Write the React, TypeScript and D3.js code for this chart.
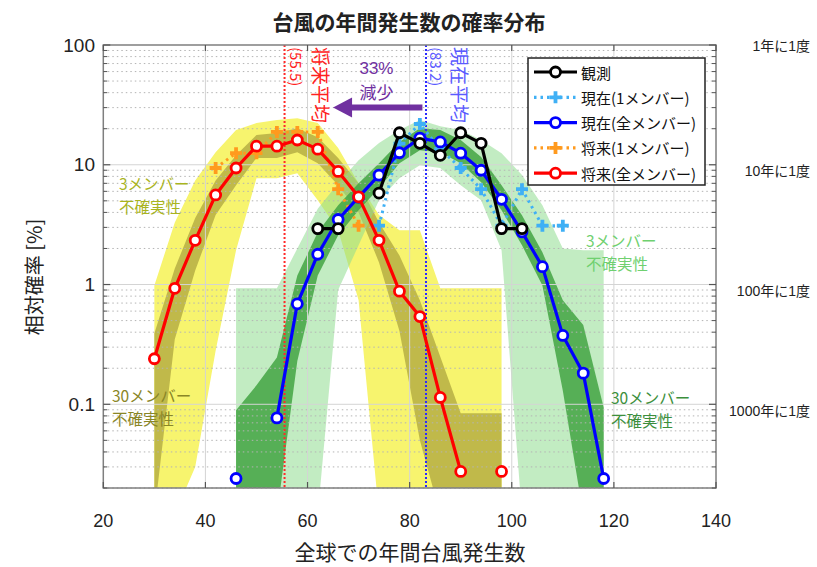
import * as d3 from "d3";

// bin centres (typhoons / year)
const bins = [30, 34, 38, 42, 46, 50, 54, 58, 62, 66, 70, 74, 78, 82, 86, 90, 94, 98, 102, 106, 110, 114, 118];

// relative probability [%] per bin, null = no occurrence
const observed = [null, null, null, null, null, null, null, null, 2.93, 2.93, null, 5.8, 18.5, 15.1, 12.0, 18.5, 15.1, 2.93, 2.93, null, null, null, null];
const presentOne = [null, null, null, null, null, null, null, null, null, null, null, 3.1, 15, 21.9, 13.5, 9.4, 6.25, 3.1, 6.25, 3.1, 3.1, null, null];
const presentAll = [null, null, null, null, 0.024, null, 0.077, 0.69, 1.79, 3.49, 5.36, 8.19, 12.6, 16.7, 15.5, 12.5, 9.0, 5.15, 2.75, 1.41, 0.376, 0.182, 0.024];
const futureOne = [null, null, null, 9.4, 12.5, 12.5, 18.8, 18.8, 18.8, 6.25, 3.1, null, null, null, null, null, null, null, null, null, null, null, null];
const futureAll = [0.24, 0.93, 2.34, 5.6, 9.4, 14.3, 14.3, 16.1, 13.5, 8.8, 5.4, 2.34, 0.88, 0.54, 0.114, 0.0275, null, 0.0275, null, null, null, null, null];

// uncertainty ranges (0.012 = zero, below the axis)
const future3Upper = [0.98, 3.3, 7.4, 12.7, 19.5, 22.3, 23.6, 24.5, 22.3, 13.8, 7.0, 3.8, 2.84, 2.84, 0.93, 0.93, 0.93, 0.93, null, null, null, null, null];
const future3Lower = [0.012, 0.012, 0.03, 0.28, 1.93, 7.7, 7.7, 8.5, 5.06, 2.84, 0.74, 0.012, 0.012, 0.012, 0.012, 0.012, 0.012, 0.012, null, null, null, null, null];
const future30Upper = [0.39, 1.36, 3.6, 7.4, 12.0, 17.7, 18.4, 20.2, 17.0, 11.4, 7.0, 3.3, 1.75, 0.74, 0.25, 0.084, 0.084, 0.084, null, null, null, null, null];
const future30Lower = [0.012, 0.35, 1.31, 3.8, 6.75, 11.4, 11.4, 12.7, 10.3, 6.75, 4.0, 1.53, 0.41, 0.05, 0.012, 0.012, 0.012, 0.012, null, null, null, null, null];
const present3Upper = [null, null, null, null, 0.93, 0.93, 0.93, 2.0, 4.3, 7.0, 10.9, 15.2, 19.5, 23.6, 21.0, 19.5, 16.1, 12.5, 8.2, 4.6, 2.0, 1.93, 1.93];
const present3Lower = [null, null, null, null, 0.012, 0.012, 0.012, 0.012, 0.012, 0.9, 2.13, 5.06, 7.7, 9.9, 9.4, 6.75, 5.06, 1.93, 0.012, 0.012, 0.012, 0.012, 0.012];
const present30Upper = [null, null, null, null, 0.089, 0.144, 0.246, 1.19, 2.73, 4.59, 7.0, 10.3, 15.5, 20.2, 19.5, 16.1, 11.6, 6.75, 3.79, 1.86, 0.74, 0.46, 0.094];
const present30Lower = [null, null, null, null, 0.012, 0.012, 0.012, 0.23, 1.19, 2.58, 4.17, 6.37, 10.3, 13.2, 12.7, 10.3, 7.16, 4.17, 2.13, 0.98, 0.13, 0.012, 0.012];

const futureMean = 55.5;
const presentMean = 83.2;

const xTicks = [20, 40, 60, 80, 100, 120, 140];
const yTicks = [0.1, 1, 10, 100];
const yTickLabels = ["0.1", "1", "10", "100"];
const returnLabels = ["1000年に1度", "100年に1度", "10年に1度", "1年に1度"];
const legendLabels = ["観測", "現在(1メンバー)", "現在(全メンバー)", "将来(1メンバー)", "将来(全メンバー)"];

const font = "'Liberation Sans', 'Noto Sans CJK JP', sans-serif";
const jp = "'Noto Sans CJK JP', sans-serif";

export default function App() {
  const W = 817;
  const H = 567;
  const x = d3.scaleLinear().domain([20, 140]).range([103.3, 716]);
  const y = d3.scaleLog().domain([0.02, 100]).range([488, 45]);
  const [x0, x1] = x.range();
  const [yb, yt] = y.range();
  const idx = bins.map((_, i) => i);

  const band = (lo: (number | null)[], hi: (number | null)[]) =>
    d3.area<number>()
      .defined(i => lo[i] != null && hi[i] != null)
      .x(i => x(bins[i]))
      .y0(i => y(lo[i] as number))
      .y1(i => y(hi[i] as number))(idx) || "";

  const line = (s: (number | null)[]) =>
    d3.line<number>()
      .defined(i => s[i] != null)
      .x(i => x(bins[i]))
      .y(i => y(s[i] as number))(idx) || "";

  const minor: number[] = [];
  [0.01, 0.1, 1, 10].forEach(d => {
    for (let k = 2; k <= 9; k++) {
      const v = k * d;
      if (v >= 0.02 && v < 100) minor.push(v);
    }
  });

  const series = [
    { data: observed, color: "#000000", dotted: false, marker: "circle" },
    { data: presentOne, color: "#3fb0f5", dotted: true, marker: "plus" },
    { data: presentAll, color: "#0000ff", dotted: false, marker: "circle" },
    { data: futureOne, color: "#ff9a1e", dotted: true, marker: "plus" },
    { data: futureAll, color: "#ff0000", dotted: false, marker: "circle" },
  ];
  const drawOrder = [1, 3, 2, 4, 0];

  const marker = (m: string, color: string, cx: number, cy: number, key: string) =>
    m === "circle" ? (
      <circle key={key} cx={cx} cy={cy} r={5} fill="#fff" stroke={color} strokeWidth={2.8} />
    ) : (
      <path key={key} d={`M${cx - 6},${cy}H${cx + 6}M${cx},${cy - 6}V${cy + 6}`} stroke={color} strokeWidth={3.8} />
    );

  const arrowY = y(30);
  const arrowTail = x(82.5);
  const arrowTip = x(65);
  const returnOffsets = [7, 6, 6, 1];

  return (
    <svg width={W} height={H} style={{ position: "absolute", left: 0, top: 0, background: "#fff" }} fontFamily={font}>
      <defs>
        <clipPath id="plot">
          <rect x={x0} y={yt} width={x1 - x0} height={yb - yt} />
        </clipPath>
      </defs>

      <g clipPath="url(#plot)">
        <path d={band(future3Lower, future3Upper)} fill="#f7f46e" />
        <path d={band(future30Lower, future30Upper)} fill="#c0b94a" />
        <path d={band(present3Lower, present3Upper)} fill="#8fdc8f" fillOpacity={0.55} />
        <path d={band(present30Lower, present30Upper)} fill="#43a543" fillOpacity={0.85} />
      </g>

      {/* grid */}
      <g>
        {minor.map(v => (
          <line key={"m" + v} x1={x0} x2={x1} y1={y(v)} y2={y(v)} stroke="#b4b4b4" strokeWidth={1} strokeDasharray="1.5,3" />
        ))}
        {yTicks.slice(0, 3).map(v => (
          <line key={"g" + v} x1={x0} x2={x1} y1={y(v)} y2={y(v)} stroke="#d4d4d4" strokeWidth={1} />
        ))}
        {xTicks.slice(1, -1).map(v => (
          <line key={"gx" + v} x1={x(v)} x2={x(v)} y1={yt} y2={yb} stroke="#d4d4d4" strokeWidth={1} />
        ))}
      </g>

      {/* mean lines */}
      <line x1={x(futureMean)} x2={x(futureMean)} y1={yt} y2={yb} stroke="#ff2a2a" strokeWidth={2} strokeDasharray="2,2" />
      <line x1={x(presentMean)} x2={x(presentMean)} y1={yt} y2={yb} stroke="#2a2aff" strokeWidth={2} strokeDasharray="2,2" />

      <g fontFamily={jp}>
        <text transform={`translate(${x(futureMean) + 37},${yt + 2}) rotate(90)`} fontSize={19} fill="#ff2020" dominantBaseline="central">将来平均</text>
        <text transform={`translate(${x(futureMean) + 12},${yt + 2}) rotate(90)`} fontSize={15} fill="#ff2020" dominantBaseline="central">({futureMean})</text>
        <text transform={`translate(${x(presentMean) + 35},${yt + 2}) rotate(90)`} fontSize={19} fill="#5a5aff" dominantBaseline="central">現在平均</text>
        <text transform={`translate(${x(presentMean) + 11},${yt + 2}) rotate(90)`} fontSize={15} fill="#5a5aff" dominantBaseline="central">({presentMean})</text>
      </g>

      {/* arrow */}
      <line x1={arrowTail} x2={arrowTip + 16} y1={arrowY} y2={arrowY} stroke="#7030a0" strokeWidth={6} />
      <path d={`M${arrowTip},${arrowY}L${arrowTip + 19},${arrowY - 10}L${arrowTip + 19},${arrowY + 10}Z`} fill="#7030a0" />
      <text x={x(73.5)} y={68} fontSize={17} fill="#7030a0" textAnchor="middle" dominantBaseline="central">33%</text>
      <text x={x(73.5)} y={91} fontSize={17} fill="#7030a0" textAnchor="middle" dominantBaseline="central" fontFamily={jp}>減少</text>

      {/* band labels */}
      <g fontFamily={jp} fontSize={15.5}>
        <text x={119} y={183} fill="#a9b41e" dominantBaseline="central">3メンバー</text>
        <text x={119} y={206} fill="#a9b41e" dominantBaseline="central">不確実性</text>
        <text x={112} y={395} fill="#8a8626" dominantBaseline="central">30メンバー</text>
        <text x={112} y={418} fill="#8a8626" dominantBaseline="central">不確実性</text>
        <text x={586} y={240} fill="#6fd06f" dominantBaseline="central">3メンバー</text>
        <text x={586} y={263} fill="#6fd06f" dominantBaseline="central">不確実性</text>
        <text x={611} y={397} fill="#3c8f3c" dominantBaseline="central">30メンバー</text>
        <text x={611} y={420} fill="#3c8f3c" dominantBaseline="central">不確実性</text>
      </g>

      {/* series */}
      <g clipPath="url(#plot)">
        {drawOrder.map(k => {
          const s = series[k];
          return (
            <g key={"s" + k}>
              <path d={line(s.data)} fill="none" stroke={s.color} strokeWidth={s.dotted ? 3 : 3.2}
                strokeDasharray={s.dotted ? "2.5,4" : undefined} strokeLinejoin="round" />
              {s.data.map((v, i) => (v == null ? null : marker(s.marker, s.color, x(bins[i]), y(v), `${k}-${i}`)))}
            </g>
          );
        })}
      </g>

      {/* frame and ticks */}
      <rect x={x0} y={yt} width={x1 - x0} height={yb - yt} fill="none" stroke="#7f7f7f" strokeWidth={1.5} />
      {yTicks.map(v => (
        <g key={"yt" + v}>
          <line x1={x0} x2={x0 + 7} y1={y(v)} y2={y(v)} stroke="#555" strokeWidth={1.2} />
          <line x1={x1} x2={x1 - 7} y1={y(v)} y2={y(v)} stroke="#555" strokeWidth={1.2} />
        </g>
      ))}
      {minor.map(v => (
        <g key={"ym" + v}>
          <line x1={x0} x2={x0 + 4} y1={y(v)} y2={y(v)} stroke="#555" strokeWidth={1} />
          <line x1={x1} x2={x1 - 4} y1={y(v)} y2={y(v)} stroke="#555" strokeWidth={1} />
        </g>
      ))}
      {xTicks.map(v => (
        <g key={"xt" + v}>
          <line x1={x(v)} x2={x(v)} y1={yb} y2={yb - 6} stroke="#555" strokeWidth={1.2} />
          <line x1={x(v)} x2={x(v)} y1={yt} y2={yt + 6} stroke="#555" strokeWidth={1.2} />
          <text x={x(v)} y={521} fontSize={18} textAnchor="middle" dominantBaseline="central" fill="#222">{v}</text>
        </g>
      ))}
      {yTicks.map((v, i) => (
        <text key={"yl" + v} x={95} y={y(v)} fontSize={19} textAnchor="end" dominantBaseline="central" fill="#222">{yTickLabels[i]}</text>
      ))}
      {yTicks.map((v, i) => (
        <text key={"rl" + v} x={810} y={y(v) + returnOffsets[i]} fontSize={14} textAnchor="end" dominantBaseline="central" fill="#222">{returnLabels[i]}</text>
      ))}

      {/* legend */}
      <g>
        <rect x={528} y={58} width={177} height={127} fill="#fff" stroke="#222" strokeWidth={1.5} />
        {legendLabels.map((lab, i) => {
          const s = series[i];
          const ly = 72 + i * 25.3;
          return (
            <g key={"lg" + i}>
              <line x1={534} x2={577} y1={ly} y2={ly} stroke={s.color} strokeWidth={3.2}
                strokeDasharray={s.dotted ? "2.5,4" : undefined} />
              {marker(s.marker, s.color, 555.5, ly, "lm" + i)}
              <text x={581} y={ly} fontSize={15} dominantBaseline="central" fill="#111" fontFamily={jp}>{lab}</text>
            </g>
          );
        })}
      </g>

      {/* titles */}
      <text x={409} y={21} fontSize={21} fontWeight="bold" textAnchor="middle" dominantBaseline="central" fontFamily={jp} fill="#222">台風の年間発生数の確率分布</text>
      <text x={410} y={551} fontSize={21} textAnchor="middle" dominantBaseline="central" fontFamily={jp} fill="#222">全球での年間台風発生数</text>
      <text transform="translate(33,277) rotate(-90)" fontSize={20} textAnchor="middle" dominantBaseline="central" fontFamily={jp} fill="#222">相対確率 [%]</text>
    </svg>
  );
}
